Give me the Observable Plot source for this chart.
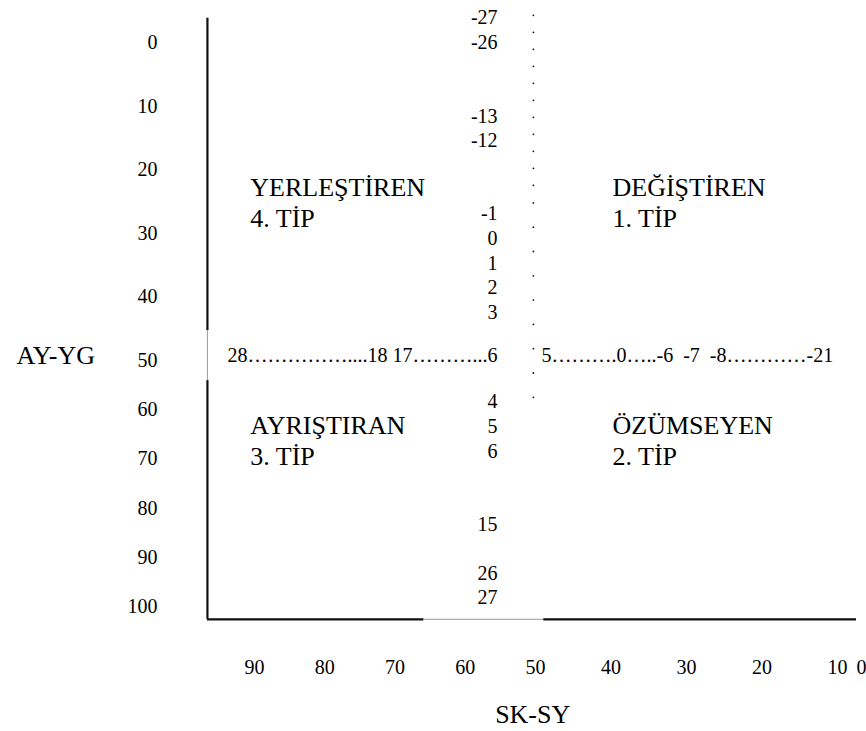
<!DOCTYPE html>
<html>
<head>
<meta charset="utf-8">
<script src="https://cdn.jsdelivr.net/npm/d3@7"></script>
<script src="https://cdn.jsdelivr.net/npm/@observablehq/plot@0.6"></script>
<style>
  html, body { margin: 0; padding: 0; background: #fff; }
  #chart svg { display: block; }
</style>
</head>
<body>
<div id="chart"></div>
<script>
// ---- Data ----
// SK-SY percentile axis (horizontal), AY-YG percentile axis (vertical)
const skTicks = [90, 80, 70, 60, 50, 40, 30, 20, 10, 0];
const ayTicks = [0, 10, 20, 30, 40, 50, 60, 70, 80, 90, 100];

// raw-score labels in the central column, with the AY-YG level they sit at
const columnScores = ["-27", "-26", "-13", "-12", "-1", "0", "1", "2", "3", "4", "5", "6", "15", "26", "27"];
const columnLevels = [-3.9, 0, 11.6, 15.4, 26.9, 30.8, 34.7, 38.5, 42.5, 58.3, 63.4, 68.5, 83.3, 93.3, 98.2];

// raw-score row along the middle (AY-YG = 50 line)
const rowLeftText = "28……………....18 17………...6";
const rowRightText = "5……….0…..-6\u00A0 -7\u00A0 -8…………-21";
const rowLevel = 49.2;
const columnSK = 55.4;     // SK-SY level where central column / left row ends
const rowRightSK = 49.2;   // SK-SY level where the right row starts

// quadrant names
const quadNames = ["YERLEŞTİREN", "DEĞİŞTİREN", "AYRIŞTIRAN", "ÖZÜMSEYEN"];
const quadTypes = ["4. TİP", "1. TİP", "3. TİP", "2. TİP"];
const quadSK = [90.6, 39.8, 90.6, 39.8];
const quadAY = [25.0, 25.0, 66.1, 66.1];

// axis titles
const titleTexts = ["AY-YG", "SK-SY"];
const titleSK = [118.3, 50.4];
const titleAY = [49.3, 122.0];

// frame of the diagram (in axis units), with the faint scan gaps
const frameSK = 96.7, frameTop = -3.8, frameBottom = 102.6, frameEnd = 2.1;
const leftSegments = [[frameTop, 45.3], [54.1, frameBottom]];
const bottomSegments = [[frameSK, 65.9], [48.9, frameEnd]];

// central dotted divider
const dividerSK = 50.3;
const dividerUpper = [[-4.2, 22.6]];
const dividerLower = [[25.3, 57.8]];

// ---- build table rows ----
const column = columnScores.map((s, i) => ({s, ay: columnLevels[i]}));
const quads = quadNames.map((n, i) => ({t: n + "\n" + quadTypes[i], sk: quadSK[i], ay: quadAY[i]}));
const titles = titleTexts.map((t, i) => ({t, sk: titleSK[i], ay: titleAY[i]}));

const font = "'Liberation Serif', 'Times New Roman', serif";

const chart = Plot.plot({
  width: 866,
  height: 731,
  marginLeft: 160,
  marginRight: 0,
  marginTop: 0,
  marginBottom: 112,
  style: {fontFamily: font, fontSize: "20px", background: "#fff", color: "#000"},
  x: {type: "linear", domain: [90, 50, 10, 0], range: [254, 535, 837, 861], label: null},
  y: {type: "linear", domain: [0, 50, 100], range: [42, 360, 606], label: null},
  marks: [
    // frame: faint full lines underneath, bold segments over them
    Plot.ruleX([frameSK], {y1: frameTop, y2: frameBottom, stroke: "#9a9a9a", strokeWidth: 1}),
    Plot.ruleY([frameBottom], {x1: frameSK, x2: frameEnd, stroke: "#9a9a9a", strokeWidth: 1}),
    Plot.ruleX(leftSegments, {x: () => frameSK, y1: d => d[0], y2: d => d[1], stroke: "#111", strokeWidth: 2.2}),
    Plot.ruleY(bottomSegments, {y: () => frameBottom, x1: d => d[0], x2: d => d[1], stroke: "#111", strokeWidth: 2.2}),

    // dotted divider
    Plot.ruleX(dividerUpper, {x: () => dividerSK, y1: d => d[0], y2: d => d[1], stroke: "#111", strokeWidth: 1.8, strokeLinecap: "round", strokeDasharray: "0,17"}),
    Plot.ruleX(dividerLower, {x: () => dividerSK, y1: d => d[0], y2: d => d[1], stroke: "#111", strokeWidth: 1.8, strokeLinecap: "round", strokeDasharray: "0,24.3"}),

    // axes
    Plot.axisY(ayTicks, {anchor: "left", tickSize: 0, tickPadding: 3, fontSize: 20, label: null}),
    Plot.axisX(skTicks, {anchor: "bottom", tickSize: 0, tickPadding: 40, fontSize: 20, label: null}),

    // central column
    Plot.text(column, {x: () => columnSK, y: "ay", text: "s", textAnchor: "end", fontSize: 20}),

    // middle row
    Plot.text([rowLeftText], {x: () => columnSK, y: () => rowLevel, text: d => d, textAnchor: "end", fontSize: 20}),
    Plot.text([rowRightText], {x: () => rowRightSK, y: () => rowLevel, text: d => d, textAnchor: "start", fontSize: 20}),

    // quadrant labels
    Plot.text(quads, {x: "sk", y: "ay", text: "t", textAnchor: "start", lineAnchor: "middle", lineHeight: 1.2, fontSize: 26}),

    // axis titles
    Plot.text(titles, {x: "sk", y: "ay", text: "t", textAnchor: "middle", fontSize: 26})
  ]
});

document.getElementById("chart").appendChild(chart);
</script>
</body>
</html>
